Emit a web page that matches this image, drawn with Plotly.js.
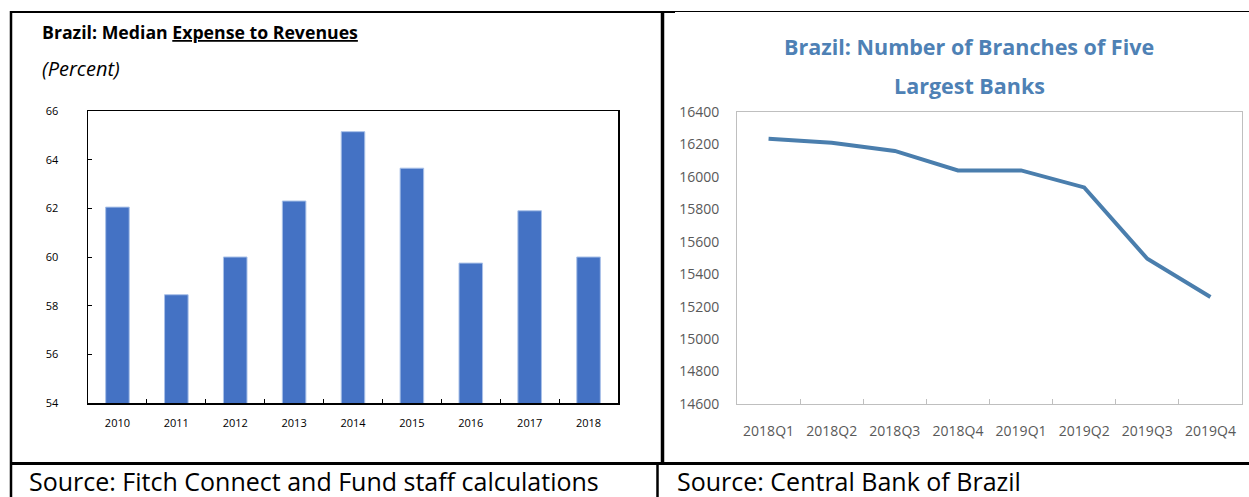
<!DOCTYPE html>
<html>
<head>
<meta charset="utf-8">
<script src="https://cdn.plot.ly/plotly-3.0.1.min.js"></script>
<style>html,body{margin:0;padding:0;background:#fff;}#chart{width:1249px;height:497px;}</style>
</head>
<body>
<div id="chart"></div>
<script>
// Left chart: Median Expense to Revenues (percent)
const years = ["2010","2011","2012","2013","2014","2015","2016","2017","2018"];
const expenseRatio = [62.05, 58.45, 60.0, 62.3, 65.15, 63.65, 59.75, 61.9, 60.0];

// Right chart: Number of branches of five largest banks
const quarters = ["2018Q1","2018Q2","2018Q3","2018Q4","2019Q1","2019Q2","2019Q3","2019Q4"];
const branches = [16235, 16210, 16160, 16040, 16040, 15935, 15495, 15260];

const W = 1249, H = 497;
const px = x => x / W;
const py = y => 1 - y / H;

const narrow = "Liberation Sans Narrow, Arial Narrow, Open Sans, sans-serif";

const traces = [
  {
    type: "bar", x: years, y: expenseRatio, xaxis: "x", yaxis: "y",
    marker: {color: "#4472C4", line: {color: "#a9c1e8", width: 1}},
    hoverinfo: "x+y"
  },
  {
    type: "scatter", mode: "lines", x: quarters, y: branches, xaxis: "x2", yaxis: "y2",
    line: {color: "#4A7EAD", width: 4}
  }
];

const layout = {
  width: W, height: H,
  margin: {l: 0, r: 0, t: 0, b: 0},
  paper_bgcolor: "#fff", plot_bgcolor: "#fff",
  showlegend: false,
  bargap: 0.6,
  xaxis: {
    domain: [px(88), px(618)], anchor: "y",
    type: "category", range: [-0.5, years.length - 0.5],
    showline: true, linecolor: "#000", linewidth: 1.5, mirror: true,
    ticks: "inside", tickson: "boundaries", ticklen: 4, tickcolor: "#000",
    tickfont: {family: narrow, size: 11, color: "#000"},
    ticklabelstandoff: 9,
    showgrid: false, zeroline: false
  },
  yaxis: {
    domain: [py(403), py(111)], anchor: "x",
    range: [54, 66], dtick: 2,
    showline: true, linecolor: "#000", linewidth: 1.5, mirror: true,
    ticks: "inside", ticklen: 4, tickcolor: "#000",
    tickfont: {family: narrow, size: 11, color: "#000"},
    ticklabelstandoff: 26,
    showgrid: false, zeroline: false
  },
  xaxis2: {
    domain: [px(737), px(1242)], anchor: "y2",
    type: "category", range: [-0.5, quarters.length - 0.5],
    showline: true, linecolor: "#BFBFBF", linewidth: 1, mirror: true,
    ticks: "inside", tickson: "boundaries", ticklen: 5, tickcolor: "#BFBFBF",
    tickfont: {family: narrow, size: 14, color: "#595959"},
    ticklabelstandoff: 14,
    showgrid: false, zeroline: false
  },
  yaxis2: {
    domain: [py(404), py(112)], anchor: "x2",
    range: [14600, 16400], dtick: 200, tickformat: "d",
    showline: true, linecolor: "#BFBFBF", linewidth: 1, mirror: true,
    ticks: "",
    tickfont: {family: narrow, size: 14, color: "#595959"},
    ticklabelstandoff: 14,
    showgrid: false, zeroline: false
  },
  annotations: [
    {xref: "paper", yref: "paper", x: px(40), y: py(32), xanchor: "left", yanchor: "middle",
     text: "<b>Brazil: Median <u>Expense to Revenues</u></b>", showarrow: false,
     font: {family: narrow, size: 17.7, color: "#000"}},
    {xref: "paper", yref: "paper", x: px(40), y: py(68), xanchor: "left", yanchor: "middle",
     text: "<i>(Percent)</i>", showarrow: false,
     font: {family: narrow, size: 20, color: "#000"}},
    {xref: "paper", yref: "paper", x: px(969), y: py(47), xanchor: "center", yanchor: "middle",
     text: "<b>Brazil: Number of Branches of Five</b>", showarrow: false,
     font: {family: narrow, size: 21.5, color: "#4E81B5"}},
    {xref: "paper", yref: "paper", x: px(969), y: py(85), xanchor: "center", yanchor: "middle",
     text: "<b>Largest Banks</b>", showarrow: false,
     font: {family: narrow, size: 21.5, color: "#4E81B5"}},
    {xref: "paper", yref: "paper", x: px(27), y: py(481), xanchor: "left", yanchor: "middle",
     text: "Source: Fitch Connect and Fund staff calculations", showarrow: false,
     font: {family: narrow, size: 25, color: "#000"}},
    {xref: "paper", yref: "paper", x: px(675), y: py(481), xanchor: "left", yanchor: "middle",
     text: "Source: Central Bank of Brazil", showarrow: false,
     font: {family: narrow, size: 25, color: "#000"}}
  ],
  shapes: [
    // top line
    {type: "line", xref: "paper", yref: "paper", x0: px(10), x1: px(675), y0: py(12), y1: py(12), line: {color: "#000", width: 2}},
    {type: "line", xref: "paper", yref: "paper", x0: px(675), x1: px(1249), y0: py(11.5), y1: py(11.5), line: {color: "#000", width: 1}},
    // left border
    {type: "line", xref: "paper", yref: "paper", x0: px(11), x1: px(11), y0: py(11), y1: py(497), line: {color: "#000", width: 2.5}},
    // middle divider
    {type: "line", xref: "paper", yref: "paper", x0: px(662.5), x1: px(662.5), y0: py(11), y1: py(463), line: {color: "#000", width: 3.5}},
    {type: "line", xref: "paper", yref: "paper", x0: px(657.5), x1: px(657.5), y0: py(463), y1: py(497), line: {color: "#000", width: 2.5}},
    // bottom separator
    {type: "line", xref: "paper", yref: "paper", x0: px(11), x1: px(1249), y0: py(463.5), y1: py(463.5), line: {color: "#000", width: 3}}
  ]
};

Plotly.newPlot("chart", traces, layout, {staticPlot: true, displayModeBar: false});
</script>
</body>
</html>
